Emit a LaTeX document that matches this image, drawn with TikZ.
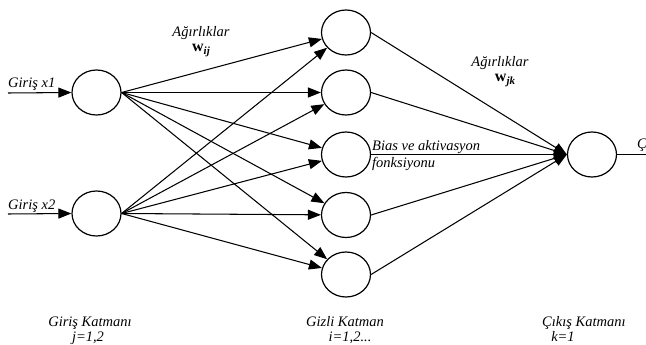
\documentclass[tikz,border=0pt]{standalone}
\usepackage{fontspec}
\setmainfont{Liberation Serif}
\usetikzlibrary{arrows.meta,shapes.geometric}
\newcommand{\wsub}[1]{{\fontsize{16}{16}\selectfont\upshape\bfseries w}\raisebox{-3pt}{\fontsize{11}{11}\selectfont\itshape\bfseries #1}}
\begin{document}
\begin{tikzpicture}[x=1pt,y=-1pt,
 neuron/.style={ellipse,draw,line width=1.2pt,minimum width=49pt,minimum height=45pt,inner sep=0pt},
 conn/.style={line width=1.05pt,-{Triangle[length=13pt,width=10pt]}},
 plain/.style={line width=1.05pt},
 lbl/.style={font=\fontsize{14.5}{15}\selectfont\itshape,inner sep=0pt},
]
\useasboundingbox (0,0) rectangle (646,345);
% nodes
\node[neuron] (i1) at (96.5,92.5) {};
\node[neuron] (i2) at (96.5,213.5) {};
\node[neuron] (h1) at (346,32.5) {};
\node[neuron] (h2) at (346,92.5) {};
\node[neuron] (h3) at (346,154.5) {};
\node[neuron] (h4) at (346,215) {};
\node[neuron] (h5) at (346,274.5) {};
\node[neuron] (o) at (592,154.5) {};
\coordinate (in1) at (8,93);
\coordinate (in2) at (8,214);
\coordinate (out) at (646,154.5);
% inputs
\draw[conn] (in1) -- (i1.west);
\draw[conn] (in2) -- (i2.west);
% input to hidden
\foreach \h in {h1,h2,h3,h4,h5}{
  \draw[conn] (i1.east) -- (\h);
  \draw[conn] (i2.east) -- (\h);
}
% hidden to output
\foreach \h in {h1,h2,h3,h4,h5}{
  \draw[conn] (\h.east) -- (o.west);
}
\draw[plain] (o.east) -- (out);
% labels
\node[lbl,anchor=base west] (g1) at (8,88) {Giriş x1};
\node[lbl,anchor=base west] (g2) at (8,209) {Giriş x2};
\node[lbl] (a1) at (201,33) {Ağırlıklar};
\node[lbl] (w1) at (201,50) {\wsub{ij}};
\node[lbl] (a2) at (500,63) {Ağırlıklar};
\node[lbl] (w2) at (505,80) {\wsub{jk}};
\node[lbl,anchor=base west] (b1) at (372,150) {Bias ve aktivasyon};
\node[lbl,anchor=base west] (b2) at (372,167) {fonksiyonu};
\node[lbl,anchor=base west] (c0) at (637,149) {Çıkış};
\node[lbl,anchor=base] (k1) at (90,326) {Giriş Katmanı};
\node[lbl,anchor=base] (k1b) at (88,341) {j=1,2};
\node[lbl,anchor=base] (k2) at (345,326) {Gizli Katman};
\node[lbl,anchor=base] (k2b) at (350,341) {i=1,2...};
\node[lbl,anchor=base west] (k3) at (542,326) {Çıkış Katmanı};
\node[lbl,anchor=base] (k3b) at (563,341) {k=1};
\end{tikzpicture}
\end{document}
